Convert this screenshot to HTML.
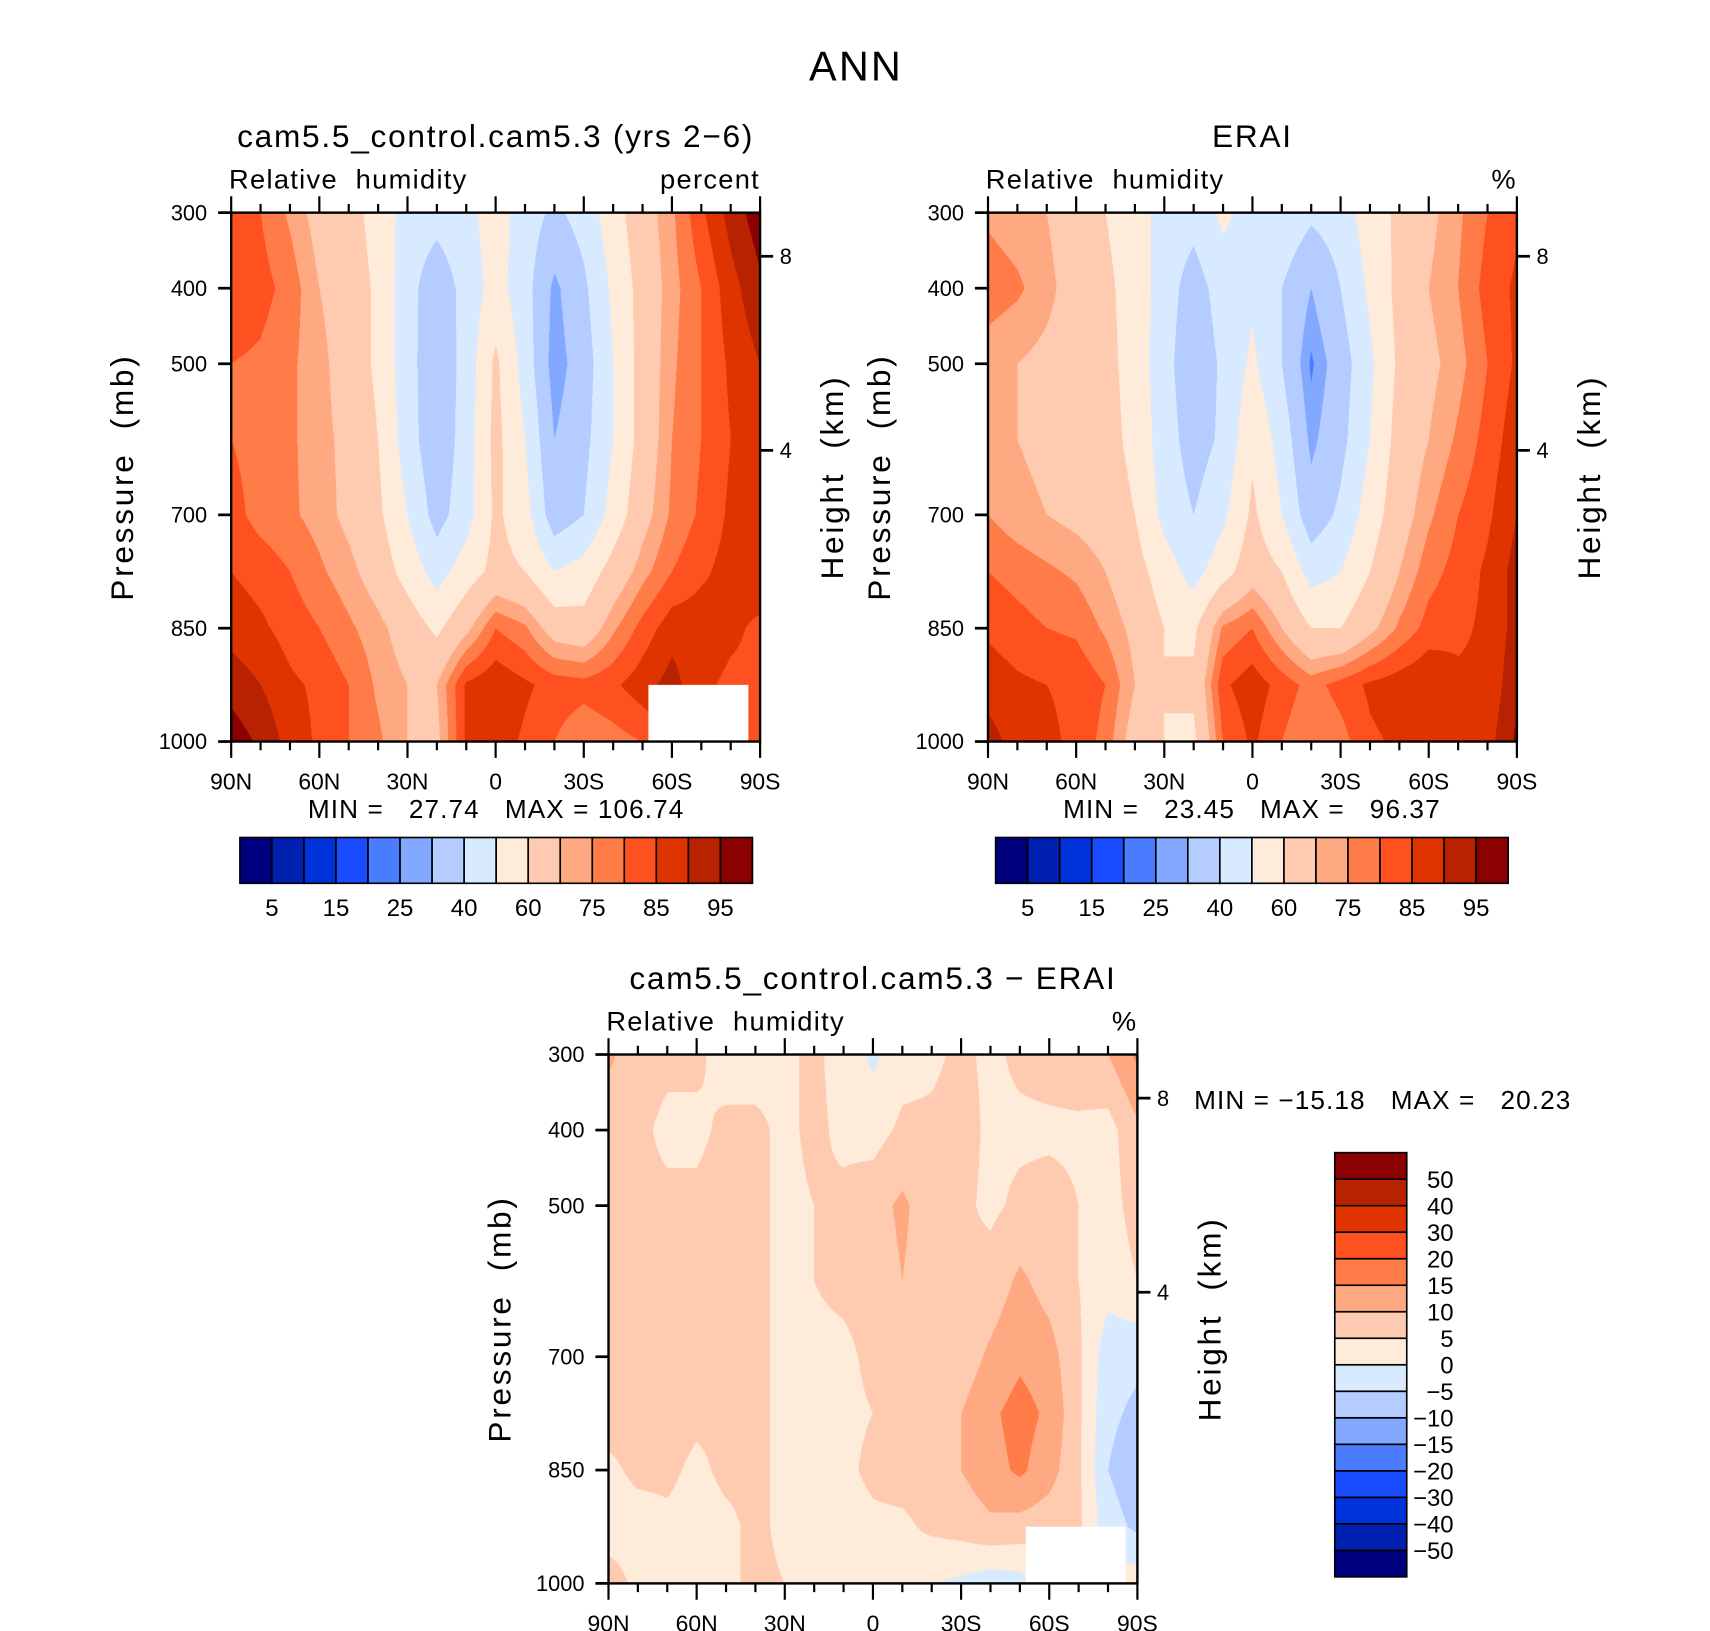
<!DOCTYPE html>
<html><head><meta charset="utf-8">
<style>
html,body{margin:0;padding:0;background:#fff;}
#root{position:relative;width:1710px;height:1631px;overflow:hidden;background:#fff;}
#inner{position:absolute;left:0;top:0;width:1560px;height:1496px;transform:scale(1.0905);transform-origin:0 0;}
canvas{position:absolute;}
svg{position:absolute;left:0;top:0;}
text{font-family:"Liberation Sans",sans-serif;fill:#000;white-space:pre;}
</style></head>
<body>
<div id="root">
<div id="inner">
<canvas id="c1"></canvas>
<canvas id="c2"></canvas>
<canvas id="c3"></canvas>
<svg id="ov" width="1560" height="1496" viewBox="0 0 1560 1496"></svg>
</div></div>
<script>
const lats = [90,80,70,60,50,40,30,20,10,0,-10,-20,-30,-40,-50,-60,-70,-80,-90];
const pres = [300,400,500,600,700,775,850,925,1000];
const latTickLabels = ["90N","60N","30N","0","30S","60S","90S"];
const presTickLabels = [300,400,500,700,850,1000];
const absLevels = [5,10,15,20,25,30,40,50,60,70,75,80,85,90,95];
const absLabels = [5,15,25,40,60,75,85,95];
const diffLevels = [-50,-40,-30,-20,-15,-10,-5,0,5,10,15,20,30,40,50];
const palette = ["#00007f","#0020b0","#0032dc","#1a4cff","#4a7cff","#82a8ff","#b4ccff","#d8eaff","#ffebda","#ffcbb0","#ffa982","#ff7b48","#ff5020","#e03400","#b82200","#8b0000"];

const modelRH = [
 [84,80,74,67,64,56,46,44,47,55,45,38,44,56,66,74,84,92,98],
 [84,82,78,70,66,58,44,33,44,54,44,28,38,52,64,73,80,88,94],
 [80,79,76,72,66,58,44,32,44,62,46,26,35,50,64,74,80,86,90],
 [80,78,76,72,68,60,45,32,45,63,50,30,37,50,64,75,80,85,90],
 [82,78,76,73,68,62,50,36,46,62,54,34,40,54,67,76,81,86,88],
 [85,83,80,76,72,66,56,46,55,63,60,50,54,64,73,80,84,87,88],
 [88,86,83,80,76,72,66,58,68,80,76,66,64,74,82,88,88,86,84],
 [93,90,86,84,80,74,70,70,86,89,86,83,82,84,88,92,86,84,84],
 [98,94,88,84,80,76,70,68,86,88,84,80,76,78,80,84,84,84,84]
];
const eraiRH = [
 [74,72,70,65,60,55,46,44,52,46,48,42,45,55,62,68,74,80,84],
 [78,76,72,66,62,56,45,35,45,48,40,30,40,52,63,70,75,82,86],
 [72,70,68,66,63,56,44,32,42,52,40,24,35,48,62,68,73,80,86],
 [72,70,68,66,64,57,45,35,42,58,46,28,37,50,64,70,76,82,88],
 [75,72,70,68,66,60,47,40,48,62,50,34,42,55,66,74,80,84,90],
 [80,78,76,74,70,64,55,46,56,66,60,46,50,60,70,78,82,86,92],
 [84,82,80,79,74,68,60,58,76,80,70,60,60,68,76,82,84,86,92],
 [88,86,85,84,80,70,60,62,84,88,83,78,82,86,88,90,86,86,94],
 [92,88,86,84,78,66,60,58,80,86,80,75,78,84,86,86,86,88,96]
];
const diffRH = [
 [11,7,6,6,3,3,4,6,3,-1,3,4,6,4,6,7,8,10,16],
 [7,6,4,4,6,6,4,6,4,3,6,6,7,4,4,4,4,3,9],
 [7,6,6,6,7,6,4,5,6,8,11,7,6,4,6,7,5,3,7],
 [7,7,6,6,6,6,4,5,6,7,10,7,6,7,11,8,5,2,5],
 [7,7,6,6,6,6,4,4,4,6,7,7,7,11,14,12,6,-3,-4],
 [7,7,7,6,6,6,4,3,4,5,6,8,10,14,17,14,6,-4,-6],
 [4,6,6,4,6,6,4,4,4,6,7,8,10,13,16,12,6,-5,-8],
 [3,3,4,3,4,6,4,5,3,4,4,6,7,9,8,7,6,-3,-6],
 [7,4,3,4,4,6,5,4,4,2,4,0,-1,-3,-2,3,3,3,3]
];
const missingLat = [-52,-86];
const missingPres = [925,1000];

const PW = 485, PH = 485;
function xOf(lat, x0){ return x0 + (90-lat)/180*PW; }
function yOf(p, y0){ return y0 + (p-300)/700*PH; }

function levelIndex(v, lev){ let i=0; while(i<lev.length && v>=lev[i]) i++; return i; }
function hexRGB(h){ return [parseInt(h.substr(1,2),16),parseInt(h.substr(3,2),16),parseInt(h.substr(5,2),16)]; }
const palRGB = palette.map(hexRGB);

function drawField(id, grid, lev, x0, y0, hasMissing){
  const cv = document.getElementById(id);
  const S = 2;
  cv.width = PW*S; cv.height = PH*S;
  cv.style.left = x0+'px'; cv.style.top = y0+'px';
  cv.style.width = PW+'px'; cv.style.height = PH+'px';
  const ctx = cv.getContext('2d');
  const img = ctx.createImageData(cv.width, cv.height);
  for(let py=0; py<cv.height; py++){
    const p = 300 + (py+0.5)/cv.height*700;
    let r=0; while(r<pres.length-2 && p>pres[r+1]) r++;
    const ty = Math.min(1,Math.max(0,(p-pres[r])/(pres[r+1]-pres[r])));
    for(let px=0; px<cv.width; px++){
      const lat = 90 - (px+0.5)/cv.width*180;
      const fc = (90-lat)/10; let c = Math.min(lats.length-2, Math.floor(fc)); const tx = fc-c;
      const v = (grid[r][c]*(1-tx)+grid[r][c+1]*tx)*(1-ty) + (grid[r+1][c]*(1-tx)+grid[r+1][c+1]*tx)*ty;
      const col = palRGB[levelIndex(v, lev)];
      const k = (py*cv.width+px)*4;
      img.data[k]=col[0]; img.data[k+1]=col[1]; img.data[k+2]=col[2]; img.data[k+3]=255;
    }
  }
  ctx.putImageData(img,0,0);
  if(hasMissing){
    ctx.fillStyle='#fff';
    const mx0=(90-missingLat[0])/180*cv.width, mx1=(90-missingLat[1])/180*cv.width;
    const my0=(missingPres[0]-300)/700*cv.height, my1=(missingPres[1]-300)/700*cv.height;
    ctx.fillRect(mx0,my0,mx1-mx0,my1-my0+2);
  }
}
drawField('c1', modelRH, absLevels, 212, 195, true);
drawField('c2', eraiRH, absLevels, 906, 195, false);
drawField('c3', diffRH, diffLevels, 558, 967, true);

const NS='http://www.w3.org/2000/svg';
const ov=document.getElementById('ov');
function el(tag, attrs, parent){ const e=document.createElementNS(NS,tag); for(const k in attrs) e.setAttribute(k,attrs[k]); (parent||ov).appendChild(e); return e; }
function txt(s,x,y,size,anchor,parent,rot,ls){ const t=el('text',{x:x,y:y,'font-size':size,'text-anchor':anchor||'middle'},parent); if(ls) t.setAttribute('letter-spacing',ls); if(rot) t.setAttribute('transform','rotate(-90 '+x+' '+y+')'); t.textContent=s; return t; }

const t0=txt('ANN',785,74,38,'middle',null,false,2);  

function panel(x0,y0,title,unit,name){
  const g=el('g',{});
  
  
  const tt=txt(title,x0+PW/2,y0-60,29,'middle',g,false,1.6);
   
  const vt=txt('Relative  humidity',x0-2,y0-22,25,'start',g,false,1.2);
   
  const ut=txt(unit,x0+PW,y0-22,25,'end',g,false,1.2);
   
  const fr=el('rect',{x:x0,y:y0,width:PW,height:PH,fill:'none',stroke:'#000','stroke-width':2.2},g);
   
  for(let lat=90; lat>=-90; lat-=10){
    const x=xOf(lat,x0); const major=(lat%30===0); const L=major?15:8;
    el('line',{x1:x,y1:y0,x2:x,y2:y0-L,stroke:'#000','stroke-width':2},g);
    el('line',{x1:x,y1:y0+PH,x2:x,y2:y0+PH+L,stroke:'#000','stroke-width':2},g);
  }
  latTickLabels.forEach((s,i)=>{ const l=txt(s,x0+i*PW/6,y0+PH+44,21,'middle',g);
      });
  presTickLabels.forEach(p=>{ const y=yOf(p,y0);
    el('line',{x1:x0,y1:y,x2:x0-12,y2:y,stroke:'#000','stroke-width':2.5},g);
    const l=txt(String(p),x0-22,y+7,20,'end',g);
      });
  [[8,40],[4,218]].forEach(h=>{ const y=y0+h[1];
    el('line',{x1:x0+PW,y1:y,x2:x0+PW+12,y2:y,stroke:'#000','stroke-width':2.5},g);
    const l=txt(String(h[0]),x0+PW+18,y+7,20,'start',g);
      });
  const yt=txt('Pressure  (mb)',x0-90,y0+PH/2,29,'middle',g,true,2.5);
   
  const ht=txt('Height  (km)',x0+PW+76,y0+PH/2,29,'middle',g,true,2.5);
   
  return g;
}
panel(212,195,'cam5.5_control.cam5.3 (yrs 2\u22126)','percent','model-panel');
panel(906,195,'ERAI','%','erai-panel');
panel(558,967,'cam5.5_control.cam5.3 \u2212 ERAI','%','difference-panel');

const m1=txt('MIN =   27.74   MAX = 106.74',455,750,24,'middle',null,false,1);  
const m2=txt('MIN =   23.45   MAX =   96.37',1148,750,24,'middle',null,false,1);  
const m3=txt('MIN = \u221215.18   MAX =   20.23',1095,1017,24,'start',null,false,1);  

function hbar(x0,y0,w,h,name){
  const g=el('g',{});
  
  
  const bw=w/palette.length;
  palette.forEach((c,i)=>{ const r=el('rect',{x:x0+i*bw,y:y0,width:bw,height:h,fill:c,stroke:'#000','stroke-width':1.5},g);
      });
  absLabels.forEach(v=>{ const i=absLevels.indexOf(v)+1;
    const l=txt(String(v),x0+i*bw,y0+h+30,22,'middle',g);
      });
}
hbar(220,768,470,42,'model-colorbar');
hbar(913,768,470,42,'erai-colorbar');

(function(){
  const x0=1224,y0=1057,w=66,h=389;
  const g=el('g',{});
  
  
  const bh=h/palette.length;
  palette.forEach((c,i)=>{ const r=el('rect',{x:x0,y:y0+(palette.length-1-i)*bh,width:w,height:bh,fill:c,stroke:'#000','stroke-width':1.5},g);
      });
  diffLevels.forEach((v,i)=>{ const y=y0+(palette.length-1-i)*bh;
    const l=txt(v<0?'\u2212'+(-v):String(v),1333,y+8,22,'end',g);
      });
})();
</script>
</body></html>
